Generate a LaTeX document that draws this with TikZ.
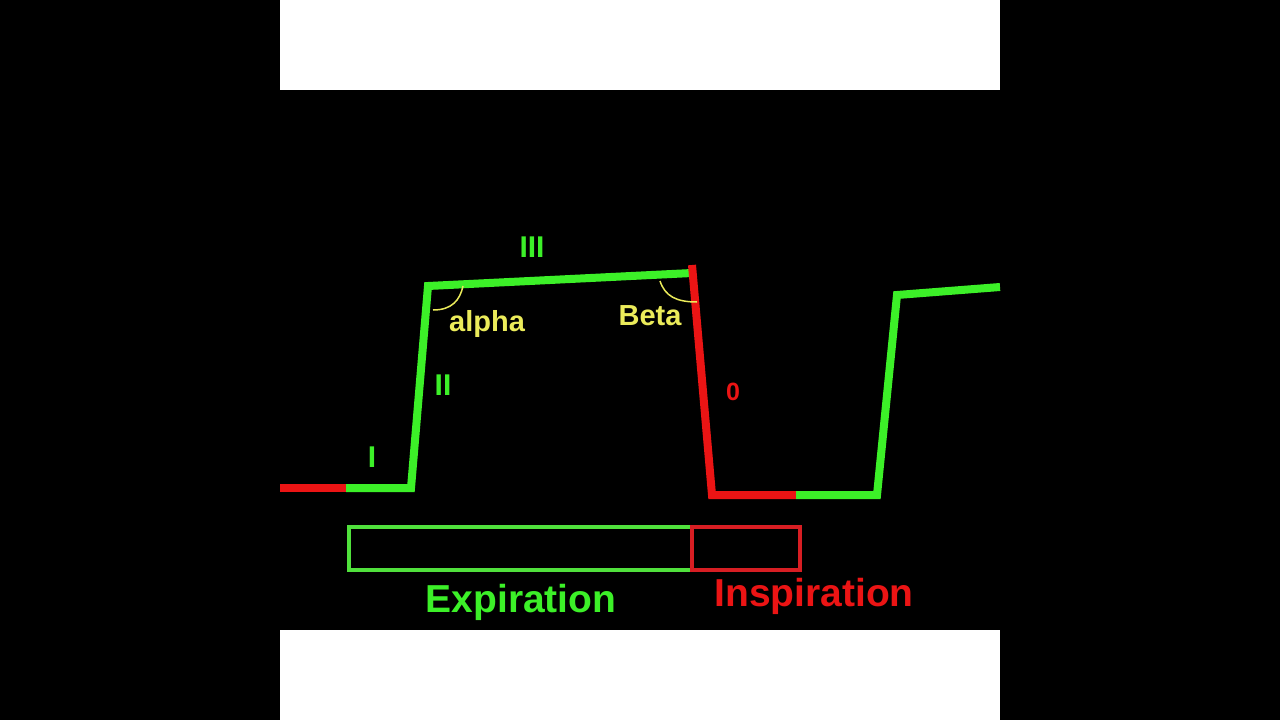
\documentclass[tikz,border=0pt]{standalone}
\usepackage{fontspec}
\setmainfont{Liberation Sans}
\usepackage{tikz}
\usetikzlibrary{positioning,calc}
\definecolor{capgreen}{RGB}{60,240,40}
\definecolor{boxgreen}{RGB}{80,225,60}
\definecolor{capred}{RGB}{235,20,20}
\definecolor{boxred}{RGB}{215,30,35}
\definecolor{angyellow}{RGB}{235,235,90}

\begin{document}
\begin{tikzpicture}[
    x=1pt, y=-1pt,
    trace/.style={line width=8pt, line join=miter},
    phase/.style={rectangle, draw, line width=4pt, inner sep=0pt, outer sep=0pt},
    numlabel/.style={font=\fontsize{30}{31}\selectfont\bfseries, anchor=base},
    anglabel/.style={font=\fontsize{29}{30}\selectfont\bfseries, text=angyellow, anchor=base},
    bigname/.style={font=\fontsize{39}{40}\selectfont\bfseries, anchor=base},
    angmark/.style={draw=angyellow, line width=1.5pt}
]
% frame
\fill[black] (0,0) rectangle (1280,720);
\fill[white] (280,0) rectangle (1000,90);
\fill[white] (280,630) rectangle (1000,720);
\useasboundingbox (0,0) rectangle (1280,720);

% capnogram points
\coordinate (start) at (280,488);
\coordinate (p1) at (346,488);
\coordinate (p2) at (411,488);
\coordinate (p3) at (428,286);
\coordinate (p4) at (692,273);
\coordinate (p5) at (712,495);
\coordinate (p6) at (796,495);
\coordinate (p7) at (877,495);
\coordinate (p8) at (897,295);
\coordinate (stop) at (1000,287);

\draw[trace, capred] (start) -- (p1);
\draw[trace, capgreen] (p1) -- (p2) -- (p3) -- (p4);
\draw[trace, capred] ($(p4)+(0,-8)$) -- (p5) -- (p6);
\draw[trace, capgreen] (p6) -- (p7) -- (p8) -- (stop);

% angles
\draw[angmark] (433,310) .. controls (452,310) and (460,300) .. (463,286);
\draw[angmark] (660,281) .. controls (665,296) and (676,302) .. (697,302);

% labels
\node[numlabel, text=capgreen] (lIII) at (532,257) {III};
\node[numlabel, text=capgreen] (lII) at (443,395) {II};
\node[numlabel, text=capgreen] (lI) at (372,467) {I};
\node[numlabel, text=capred, font=\fontsize{25}{26}\selectfont\bfseries] (l0) at (733,400) {0};
\node[anglabel] (alpha) at (487,331) {alpha};
\node[anglabel] (beta) at (650,325) {Beta};

% phase bars
\node[phase, draw=boxgreen, minimum width=343pt, minimum height=43pt] (expbox) at (520.5,548.5) {};
\node[phase, draw=boxred, minimum width=108pt, minimum height=43pt, right=0pt of expbox] (insbox) {};
\node[bigname, text=capgreen] (exp) at (521,612) {Expiration};
\node[bigname, text=capred] (ins) at (814,606) {Inspiration};
\end{tikzpicture}
\end{document}
